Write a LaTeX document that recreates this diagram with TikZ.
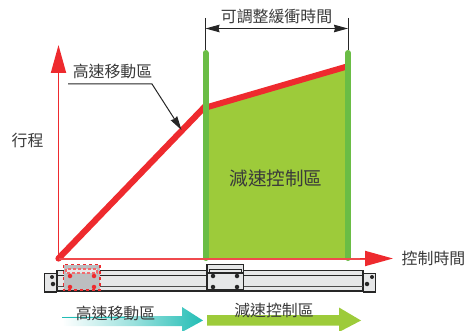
\documentclass[tikz,border=0pt]{standalone}
\usepackage{fontspec}
\setmainfont{Noto Sans CJK TC}
\usetikzlibrary{arrows.meta, positioning}
\definecolor{axisred}{HTML}{EE2A2E}
\definecolor{zonegreen}{HTML}{9DCB3A}
\definecolor{bargreen}{HTML}{6ABD45}
\definecolor{railgray}{HTML}{E6E7E8}
\definecolor{cargray}{HTML}{BCBEC0}
\definecolor{flowteal}{HTML}{22BDB5}
\definecolor{inkgray}{HTML}{3A3A3A}
\tikzset{
  lbl/.style={text=inkgray, inner sep=0pt, font=\fontsize{15.9}{16}\selectfont},
  dimline/.style={draw=black!85, line width=1pt},
  dimarrow/.style={dimline, {Stealth[length=14pt,width=7.5pt,inset=1pt]}-{Stealth[length=14pt,width=7.5pt,inset=1pt]}},
  railpart/.style={draw=black!85, line width=1.3pt, fill=railgray},
  hole/.style={circle, fill=black!85, minimum size=4pt, inner sep=0pt},
  redhole/.style={circle, fill=axisred, minimum size=4.5pt, inner sep=0pt},
}
\begin{document}
\begin{tikzpicture}[x=1pt, y=-1pt]
    \useasboundingbox (0,0) rectangle (473,331);
    % green zone
    \fill[zonegreen] (206,108) -- (348,66) -- (348,258) -- (206,258) -- cycle;
    % stroke curve
    \coordinate (origin) at (58.5,258.5);
    \coordinate (knee) at (205.5,106);
    \coordinate (kneeb) at (206,107.5);
    \coordinate (strokeend) at (347,66.5);
    \draw[axisred, line width=6.2pt, line cap=round] (origin) -- (knee);
    \draw[axisred, line width=6pt] (kneeb) -- (strokeend);
    \draw[bargreen, line width=6pt, line cap=round] (205.5,53) -- (205.5,258);
    \draw[bargreen, line width=6pt, line cap=round] (348,53) -- (348,258);
    % axes
    \coordinate (ytip) at (58.5,45);
    \coordinate (xtip) at (393,258.5);
    \draw[axisred, line width=1.8pt, -{Triangle[length=28pt,width=15pt]}] (origin) -- (ytip);
    \draw[axisred!85, line width=2pt] (origin) -- (370,258.5);
    \draw[axisred, line width=1.8pt, -{Triangle[length=28pt,width=15pt]}] (360,258.5) -- (xtip);
    % labels
    \node[lbl] (ylabel) at (27.5,140) {行程};
    \node[lbl] (xlabel) at (433.5,258) {控制時間};
    \node[lbl] (fastlabel) at (112.5,71) {高速移動區};
    \node[lbl, font=\fontsize{18.6}{20}\selectfont] (slowlabel) at (276,178) {減速控制區};
    \node[lbl] (timelabel) at (276.5,16) {可調整緩衝時間};
    % leader
    \coordinate (leadstart) at (68,84);
    \coordinate (leadbend) at (152,84);
    \coordinate (leadtip) at (181.5,130);
    \draw[dimline, -{Stealth[length=14pt,width=7.5pt,inset=1pt]}] (leadstart) -- (leadbend) -- (leadtip);
    % adjustable time
    \coordinate (dimtopl) at (205.5,18);
    \coordinate (dimbotl) at (205.5,50);
    \coordinate (dimtopr) at (348,18);
    \coordinate (dimbotr) at (348,50);
    \coordinate (diml) at (205.5,28.5);
    \coordinate (dimr) at (348,28.5);
    \draw[dimline] (dimtopl) -- (dimbotl);
    \draw[dimline] (dimtopr) -- (dimbotr);
    \draw[dimarrow] (diml) -- (dimr);
    % rail
    \draw[railpart] (57,270.5) rectangle (363,291);
    \draw[draw=black!85, line width=.9pt] (57,275.5) -- (363,275.5);
    \draw[draw=black!70, line width=1.3pt] (57,286.5) -- (363,286.5);
    \draw[railpart] (44.5,273.5) rectangle (56.5,292);
    \draw[railpart] (363.5,273.5) rectangle (375.5,292);
    \node[hole] (capl1) at (52,277) {};
    \node[hole, minimum size=4.5pt] (capl2) at (53,284) {};
    \node[hole] (capr1) at (372,277) {};
    \node[hole, minimum size=4.5pt] (capr2) at (367,284) {};
    % carriage at start, dashed
    \draw[draw=axisred, fill=cargray, line width=1.3pt, dashed] (63.5,264.5) rectangle (100,290);
    \draw[draw=axisred!70, fill=railgray, line width=1.2pt, densely dashed] (66,269) rectangle (97,273);
    \foreach \hx in {70,94} {
      \foreach \hy in {276,287} {
        \node[redhole] (r\hx\hy) at (\hx,\hy) {};
      }
    }
    % carriage at end
    \draw[railpart] (207,264.5) rectangle (243.5,290);
    \draw[railpart, line width=1pt] (209.5,269) rectangle (241,273);
    \draw[draw=black!85, line width=1.3pt] (207,273) -- (243.5,273);
    \foreach \hx in {213,237} {
      \foreach \hy in {276,287} {
        \node[hole, minimum size=4.5pt] (b\hx\hy) at (\hx,\hy) {};
      }
    }
    % flow arrows
    \shade[left color=white, right color=flowteal, middle color=flowteal!45]
      (62,316) -- (182,316) -- (182,307) -- (203,320.5) -- (182,332) -- (182,326) -- (62,326) -- cycle;
    \draw[flowteal, line width=.8pt] (62,317) -- (125,317);
    \fill[zonegreen] (207,315) -- (339,315) -- (339,307.5) -- (361,320.5) -- (339,332) -- (339,325.5) -- (207,325.5) -- cycle;
    \node[lbl] (fastflow) at (115.5,313) {高速移動區};
    \node[lbl] (slowflow) at (274,310) {減速控制區};
\end{tikzpicture}
\end{document}
